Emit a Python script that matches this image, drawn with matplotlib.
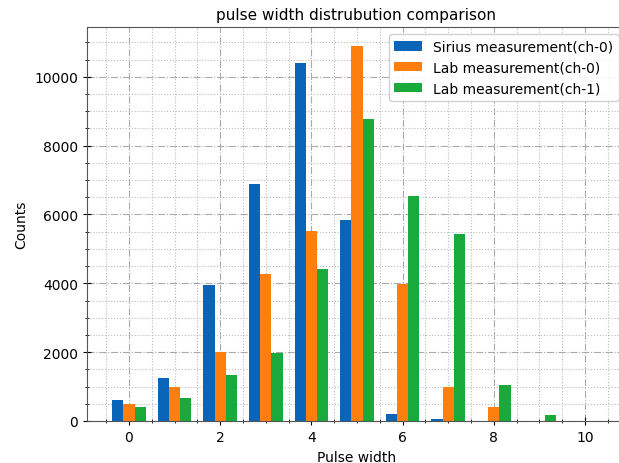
import matplotlib
matplotlib.use("Agg")
import matplotlib.pyplot as plt
import numpy as np
from matplotlib.ticker import MultipleLocator

pulse_width = [0, 1, 2, 3, 4, 5, 6, 7, 8, 9, 10]
sirius_ch0 = [600, 1260, 3950, 6890, 10400, 5840, 210, 60, 0, 0, 0]
lab_ch0 = [480, 1000, 2000, 4270, 5520, 10880, 3980, 980, 420, 0, 0]
lab_ch1 = [400, 660, 1350, 1970, 4410, 8780, 6550, 5430, 1060, 160, 0]
labels = ["Sirius measurement(ch-0)", "Lab measurement(ch-0)", "Lab measurement(ch-1)"]
colors = ["#0a64b8", "#ff7f0e", "#1aaa3c"]

fig = plt.figure(figsize=(6.19, 4.64), dpi=100)
ax = fig.add_axes([87/619, 42/464, (626-87)/619, (422-28)/464])

x = np.array(pulse_width, dtype=float)
w = 0.245
for i, (vals, lab, c) in enumerate(zip([sirius_ch0, lab_ch0, lab_ch1], labels, colors)):
    ax.bar(x + (i - 1) * w, vals, width=w, color=c, label=lab, zorder=1)

ax.set_xlim(-0.92, 10.9)
ax.set_ylim(0, 11445)
ax.xaxis.set_major_locator(MultipleLocator(2))
ax.xaxis.set_minor_locator(MultipleLocator(0.5))
ax.yaxis.set_major_locator(MultipleLocator(2000))
ax.yaxis.set_minor_locator(MultipleLocator(500))
ax.grid(which="major", linestyle="-.", color="#aaaaaa", linewidth=0.8)
ax.grid(which="minor", linestyle=":", color="#bbbbbb", linewidth=0.8)
ax.set_axisbelow(True)
ax.tick_params(which="both", direction="inout")
ax.tick_params(which="major", length=6)
ax.tick_params(which="minor", length=3)
for s in ax.spines.values():
    s.set_color("#555555")

ax.set_title("pulse width distrubution comparison", fontsize=11)
ax.set_xlabel("Pulse width", fontsize=10)
ax.set_ylabel("Counts", fontsize=10)
ax.tick_params(labelsize=10)
ax.legend(loc="upper right", fontsize=10, framealpha=0.9)

fig.savefig("out.png", dpi=100)
